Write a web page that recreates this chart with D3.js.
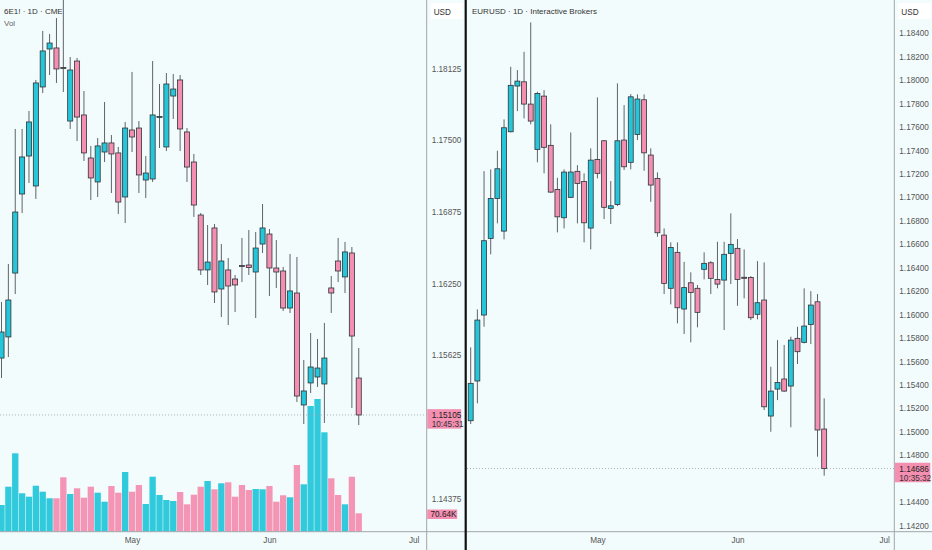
<!DOCTYPE html>
<html><head><meta charset="utf-8">
<script src="https://cdn.jsdelivr.net/npm/d3@7"></script>
<style>
html,body{margin:0;padding:0;background:#f3fcfd;}
svg{display:block;}
text{font-family:"Liberation Sans Narrow","Liberation Sans",Arial,sans-serif;}
</style>
</head><body>
<svg id="chart" width="932" height="550"></svg>
<script>
// ---------- LEFT: 6E1! · 1D · CME ----------
const leftOpen  = [1.15601,1.15785,1.16342,1.17031,1.17362,1.17101,1.17964,1.18295,1.18304,1.18134,1.17667,1.18190,1.17720,1.17345,1.17136,1.17397,1.17476,1.17389,1.17005,1.17589,1.17606,1.17153,1.17162,1.17698,1.17441,1.17885,1.18025,1.17572,1.17310,1.16848,1.16369,1.16735,1.16203,1.16369,1.16290,1.16408,1.16412,1.16351,1.16595,1.16682,1.16386,1.16360,1.16037,1.16168,1.15192,1.15384,1.15436,1.15375,1.16212,1.16447,1.16308,1.16517,1.15427];
const leftHigh  = [1.16090,1.16421,1.17598,1.17598,1.17755,1.18025,1.18452,1.18426,1.18565,1.18740,1.18225,1.18217,1.17929,1.17450,1.17519,1.17833,1.17545,1.17441,1.17659,1.18095,1.17667,1.17362,1.18190,1.17990,1.18086,1.18077,1.18068,1.17606,1.17380,1.16865,1.16761,1.16770,1.16595,1.16473,1.16325,1.16648,1.16717,1.16700,1.16944,1.16726,1.16630,1.16395,1.16508,1.16482,1.15584,1.15819,1.15767,1.15907,1.16316,1.16648,1.16613,1.16569,1.15689];
const leftLow   = [1.15427,1.15610,1.16159,1.16865,1.17127,1.16988,1.17911,1.18068,1.17999,1.17920,1.17598,1.17493,1.17319,1.16979,1.17005,1.17310,1.17040,1.16857,1.16778,1.17397,1.17040,1.16996,1.17136,1.17432,1.17406,1.17685,1.17406,1.17136,1.16831,1.16325,1.16238,1.16081,1.15959,1.15889,1.16003,1.16264,1.16325,1.15950,1.16517,1.16142,1.16212,1.16011,1.15994,1.15218,1.15026,1.15296,1.15349,1.15035,1.15994,1.16264,1.16168,1.15166,1.15017];
const leftClose = [1.15828,1.16107,1.16874,1.17354,1.17659,1.17999,1.18278,1.18347,1.18121,1.18125,1.18112,1.17702,1.17389,1.17171,1.17450,1.17476,1.17380,1.16961,1.17606,1.17528,1.17197,1.17214,1.17720,1.17707,1.17990,1.17946,1.17598,1.17266,1.16935,1.16369,1.16438,1.16177,1.16447,1.16229,1.16238,1.16399,1.16391,1.16560,1.16735,1.16386,1.16351,1.16037,1.16186,1.15270,1.15314,1.15523,1.15514,1.15601,1.16168,1.16360,1.16526,1.15793,1.15105];
const leftVolume = [102.5,172.8,301,147.5,134.4,176.6,153.6,128.3,128.3,208.9,144.8,166.7,130.6,172.8,149.8,115.2,175.5,149.8,229.2,153.6,179.3,106.4,211.2,140.9,121.7,117.9,152.4,105.2,142.1,172.8,194.7,162.8,185.9,189.7,134.4,179.3,160.1,164,162.8,175.5,115.2,139.8,132.1,256.1,182,482.7,509.6,381.7,205.1,140.9,105.2,211.2,70.64]; // thousands
const leftPriceTicks = [1.18125,1.17500,1.16875,1.16250,1.15625,1.14375];
const leftMonthLabels = ["May","Jun","Jul"];
const leftMonthIndex  = [19,39,60];
const leftLastPrice = 1.15105, leftLastTime = "10:45:31", leftLastVolLabel = "70.64K";

// ---------- RIGHT: EURUSD · 1D · Interactive Brokers ----------
const rightOpen  = [1.15094,1.15433,1.15996,1.16650,1.16991,1.16712,1.17560,1.17950,1.17986,1.17796,1.17409,1.17864,1.17444,1.17068,1.16826,1.17000,1.17222,1.17136,1.16738,1.17324,1.17483,1.16906,1.16940,1.17489,1.17299,1.17537,1.17833,1.17361,1.17162,1.16678,1.16224,1.16531,1.16047,1.16271,1.16224,1.16386,1.16442,1.16300,1.16294,1.16522,1.16565,1.16318,1.16317,1.16002,1.16124,1.15134,1.15364,1.15450,1.15390,1.15797,1.15763,1.15916,1.16109,1.15023];
const rightHigh  = [1.15720,1.16044,1.17224,1.17239,1.17398,1.17665,1.18114,1.18086,1.18242,1.18493,1.17901,1.17915,1.17623,1.17167,1.17239,1.17554,1.17275,1.17205,1.17418,1.17853,1.17489,1.17139,1.17973,1.17787,1.17881,1.17879,1.17879,1.17418,1.17213,1.16735,1.16616,1.16616,1.16450,1.16360,1.16252,1.16531,1.16456,1.16621,1.16621,1.16863,1.16644,1.16556,1.16328,1.16456,1.16445,1.15555,1.15782,1.15740,1.15811,1.15896,1.16224,1.16200,1.16175,1.15285];
const rightLow   = [1.15066,1.15242,1.15896,1.16514,1.16778,1.16642,1.17554,1.17736,1.17674,1.17623,1.17299,1.17205,1.17039,1.16701,1.16735,1.16995,1.16778,1.16616,1.16556,1.17162,1.16815,1.16772,1.16926,1.17233,1.17239,1.17489,1.17227,1.16962,1.16664,1.16175,1.16087,1.15925,1.15834,1.15763,1.15891,1.16300,1.16175,1.16224,1.15868,1.16260,1.16075,1.16138,1.15953,1.15959,1.15185,1.15000,1.15270,1.15341,1.15038,1.15578,1.15754,1.15748,1.14787,1.14625];
const rightClose = [1.15413,1.15953,1.16630,1.16991,1.17244,1.17594,1.17956,1.17992,1.17796,1.17651,1.17887,1.17427,1.17045,1.16834,1.17216,1.17216,1.17119,1.16783,1.17318,1.17205,1.16915,1.16928,1.17483,1.17261,1.17858,1.17839,1.17380,1.17105,1.16698,1.16266,1.16573,1.16058,1.16230,1.16189,1.16019,1.16437,1.16309,1.16260,1.16514,1.16599,1.16300,1.16310,1.15973,1.16101,1.15213,1.15347,1.15421,1.15347,1.15782,1.15683,1.15902,1.16081,1.15015,1.14686];
const rightPriceTicks = [1.184,1.182,1.180,1.178,1.176,1.174,1.172,1.170,1.168,1.166,1.164,1.162,1.160,1.158,1.156,1.154,1.152,1.150,1.148,1.144,1.142];
const rightMonthLabels = ["May","Jun","Jul"];
const rightMonthIndex  = [19,40,62];
const rightLastPrice = 1.14686, rightLastTime = "10:35:32";

// ---------- styles ----------
const UP = "#26c6da", DOWN = "#f48fb1", BORDER = "#2e3338", WICK = "#5f6368";
const AXIS_TXT = "#555", LINE = "#a0a4a8";
const FONT = '"Liberation Sans Narrow","Liberation Sans",Arial,sans-serif';
const AX_FS = 8.2;

const svg = d3.select("#chart");
svg.append("rect").attr("width",932).attr("height",550).attr("fill","#f3fcfd");

function build(series){
  return series.open.map((o,i)=>({i,o,h:series.high[i],l:series.low[i],c:series.close[i],v:series.vol?series.vol[i]:null}));
}

function drawPanel(cfg){
  const g = svg.append("g");
  const clipId = "clip"+cfg.id;
  svg.append("clipPath").attr("id",clipId).append("rect")
    .attr("x",cfg.plotX0).attr("y",0).attr("width",cfg.plotX1-cfg.plotX0).attr("height",cfg.plotBottom);
  const plot = g.append("g").attr("clip-path",`url(#${clipId})`);
  const x = d3.scaleLinear().domain(cfg.xDomain).range(cfg.xRange);
  const y = d3.scaleLinear().domain(cfg.yDomain).range(cfg.yRange);
  const data = build(cfg.series);
  const step = x(1)-x(0);
  const bw = step*0.74;

  if (cfg.series.vol){
    const yv = d3.scaleLinear().domain(cfg.volDomain).range(cfg.volRange);
    plot.selectAll("rect.vol").data(data).join("rect")
      .attr("x",d=>x(d.i)-step*0.46).attr("width",step*0.92)
      .attr("y",d=>yv(d.v)).attr("height",d=>yv(0)-yv(d.v))
      .attr("fill",d=>d.c>=d.o?UP:DOWN).attr("opacity",0.95);
  }
  plot.append("line").attr("x1",cfg.plotX0).attr("x2",cfg.plotX1)
    .attr("y1",y(cfg.last)).attr("y2",y(cfg.last))
    .attr("stroke","#9aa0a6").attr("stroke-width",0.8).attr("stroke-dasharray","1,2");
  plot.selectAll("line.wick").data(data).join("line")
    .attr("x1",d=>x(d.i)).attr("x2",d=>x(d.i))
    .attr("y1",d=>y(d.h)).attr("y2",d=>y(d.l))
    .attr("stroke",WICK).attr("stroke-width",1);
  plot.selectAll("rect.body").data(data).join("rect")
    .attr("x",d=>x(d.i)-bw/2).attr("width",bw)
    .attr("y",d=>y(Math.max(d.o,d.c)))
    .attr("height",d=>Math.max(1,Math.abs(y(d.o)-y(d.c))))
    .attr("fill",d=>d.c>=d.o?UP:DOWN)
    .attr("stroke",BORDER).attr("stroke-width",0.8);

  const ax = g.append("g").attr("transform",`translate(${cfg.axisX},0)`)
    .call(d3.axisRight(y).tickValues(cfg.priceTicks).tickFormat(d3.format(".5f")).tickSize(0).tickPadding(5));
  ax.select(".domain").remove();
  ax.selectAll("text").attr("fill",AXIS_TXT).attr("font-size",AX_FS).attr("font-family",FONT);

  const tx = g.append("g").attr("transform",`translate(0,${cfg.plotBottom})`)
    .call(d3.axisBottom(x).tickValues(cfg.monthIndex).tickFormat((d,i)=>cfg.monthLabels[i]).tickSize(0).tickPadding(5));
  tx.select(".domain").remove();
  tx.selectAll("text").attr("fill",AXIS_TXT).attr("font-size",AX_FS).attr("font-family",FONT);

  g.append("line").attr("x1",cfg.axisX).attr("x2",cfg.axisX).attr("y1",0).attr("y2",550)
    .attr("stroke",LINE).attr("stroke-width",1);

  g.append("rect").attr("x",cfg.axisX+4).attr("y",3).attr("width",cfg.usdW).attr("height",16)
    .attr("fill","#ffffff");
  g.append("text").attr("x",cfg.axisX+7).attr("y",14.5).text("USD")
    .attr("fill","#333").attr("font-size",8.2);

  const ly = y(cfg.last);
  g.append("rect").attr("x",cfg.axisX+0.5).attr("y",ly-5.8).attr("width",cfg.lastW).attr("height",19.5)
    .attr("fill",DOWN);
  g.append("text").attr("x",cfg.axisX+5).attr("y",ly+3).text(d3.format(".5f")(cfg.last))
    .attr("fill","#222").attr("font-size",AX_FS);
  g.append("text").attr("x",cfg.axisX+5).attr("y",ly+12.2).text(cfg.lastTime)
    .attr("fill","#333").attr("font-size",AX_FS);

  g.append("text").attr("x",cfg.titleX).attr("y",13.5).text(cfg.title)
    .attr("fill","#333").attr("font-size",8);
  return {x,y};
}

drawPanel({
  id:"L", plotX0:0, plotX1:426.7, plotBottom:531.7,
  xDomain:[0,60], xRange:[1.5,413.7],
  yDomain:[1.14375,1.18125], yRange:[498.7,68.5],
  series:{open:leftOpen,high:leftHigh,low:leftLow,close:leftClose,vol:leftVolume},
  volDomain:[0,600], volRange:[531.7,531.7-600/3.84],
  priceTicks:leftPriceTicks, axisX:426.7,
  monthIndex:leftMonthIndex, monthLabels:leftMonthLabels,
  last:leftLastPrice, lastTime:leftLastTime, lastW:34, usdW:32,
  title:"6E1! · 1D · CME", titleX:4
});

svg.append("text").attr("x",4).attr("y",26).text("Vol").attr("fill","#666").attr("font-size",8);
const yvL = d3.scaleLinear().domain([0,600]).range([531.7,531.7-600/3.84]);
svg.append("rect").attr("x",427.2).attr("y",yvL(leftVolume[leftVolume.length-1])-3.8).attr("width",30).attr("height",9.5).attr("fill",DOWN);
svg.append("text").attr("x",430.5).attr("y",yvL(leftVolume[leftVolume.length-1])+3.8).text(leftLastVolLabel)
  .attr("fill","#222").attr("font-size",AX_FS);

drawPanel({
  id:"R", plotX0:467, plotX1:894.3, plotBottom:531.7,
  xDomain:[0,62], xRange:[470.7,884.2],
  yDomain:[1.142,1.184], yRange:[525.5,33.3],
  series:{open:rightOpen,high:rightHigh,low:rightLow,close:rightClose},
  priceTicks:rightPriceTicks, axisX:894.3,
  monthIndex:rightMonthIndex, monthLabels:rightMonthLabels,
  last:rightLastPrice, lastTime:rightLastTime, lastW:35.5, usdW:33,
  title:"EURUSD · 1D · Interactive Brokers", titleX:472
});

svg.append("line").attr("x1",0).attr("x2",932).attr("y1",531.7).attr("y2",531.7)
  .attr("stroke",LINE).attr("stroke-width",1);
svg.append("rect").attr("x",464.6).attr("y",0).attr("width",2.2).attr("height",550).attr("fill","#111");
</script>
</body></html>
